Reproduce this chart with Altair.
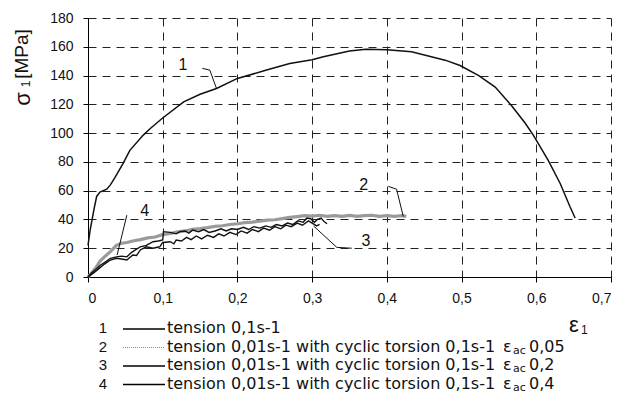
import altair as alt
import pandas as pd

# ---------------- data ----------------
x_ticks = [0, 0.1, 0.2, 0.3, 0.4, 0.5, 0.6, 0.7]
y_ticks = [0, 20, 40, 60, 80, 100, 120, 140, 160, 180]

c1_eps = [0, 0.003, 0.008, 0.0116, 0.016, 0.025, 0.03, 0.036, 0.047, 0.056, 0.074, 0.083,
          0.0987, 0.128, 0.15, 0.172, 0.2, 0.239, 0.27, 0.3, 0.315, 0.35, 0.372, 0.4,
          0.433, 0.478, 0.498, 0.523, 0.545, 0.567, 0.585, 0.596, 0.616, 0.632, 0.645, 0.652]
c1_sig = [22, 33, 47, 56, 59, 61, 64, 69, 79, 88, 98.6, 103,
          110, 121.7, 127, 131, 138, 143.8, 148.4, 151, 153, 157, 158.3, 158,
          156.5, 150.7, 147, 140, 132, 119, 107, 98.6, 81, 65, 49, 41]

c2_eps = [0, 0.005, 0.01, 0.016, 0.022, 0.03, 0.038, 0.045, 0.052, 0.06, 0.07, 0.08, 0.09,
          0.1, 0.11, 0.12, 0.13, 0.14, 0.15, 0.16, 0.17, 0.18, 0.19, 0.2, 0.21, 0.22,
          0.23, 0.24, 0.25, 0.26, 0.27, 0.28, 0.29, 0.3, 0.31, 0.32, 0.33, 0.34, 0.35,
          0.36, 0.37, 0.38, 0.39, 0.4, 0.41, 0.42, 0.426]
c2_sig = [0, 3, 6, 11, 14, 17.6, 22, 23.5, 24, 25, 26, 27.2, 27.8,
          29.5, 30.2, 31.4, 32, 33.2, 33.6, 34.3, 35.2, 35.6, 36.5, 37, 37.8, 38.2,
          38.8, 39.5, 39.8, 40.6, 41.4, 42, 42.6, 42.3, 42.9, 42.2, 42.7, 42.1, 42.8,
          42.2, 42.6, 42.9, 42.1, 42.7, 42.2, 42.6, 42.1]

c3_eps = [0, 0.005, 0.01, 0.016, 0.025, 0.03, 0.038, 0.045, 0.052, 0.058, 0.064, 0.07, 0.078,
          0.087, 0.094, 0.1, 0.101, 0.11, 0.118, 0.123, 0.13, 0.135, 0.14, 0.148, 0.155, 0.162,
          0.17, 0.178, 0.185, 0.192, 0.2, 0.208, 0.215, 0.222, 0.23, 0.238, 0.245, 0.252, 0.26,
          0.267, 0.274, 0.281, 0.288, 0.293, 0.298, 0.303, 0.307, 0.312, 0.316, 0.32]
c3_sig = [0, 3, 5, 8, 11, 13, 14, 14.5, 14, 17, 19, 21, 22,
          24.5, 25, 25.7, 31.5, 31, 30, 31.5, 32, 30.5, 32.6, 31.5, 33, 31,
          32, 33.5, 32, 33.5, 33, 34.5, 33, 35, 34, 35.5, 34.5, 36.5, 35.5,
          37.5, 36.5, 39, 38, 41, 40.5, 38, 40, 41, 38.5, 37]

c4_eps = [0, 0.008, 0.015, 0.022, 0.03, 0.038, 0.045, 0.052, 0.06, 0.065, 0.07, 0.078, 0.087,
          0.096, 0.1, 0.11, 0.115, 0.118, 0.125, 0.132, 0.138, 0.145, 0.152, 0.16, 0.168,
          0.175, 0.182, 0.19, 0.198, 0.205, 0.213, 0.22, 0.228, 0.235, 0.243, 0.25, 0.258,
          0.265, 0.272, 0.28, 0.287, 0.295, 0.3, 0.306, 0.31]
c4_sig = [0, 3, 6, 9, 11.8, 13, 12.5, 11.8, 15.3, 15, 18.8, 21, 20,
          21, 24, 24.5, 23, 25.7, 25, 27.5, 26, 28.5, 26.5, 29, 27.5,
          30, 28.5, 31, 29.5, 32, 30.5, 33, 31.5, 34, 32.5, 35, 33.5,
          36, 35, 37.5, 36, 39, 37.5, 35.5, 36.5]

# leader lines of the curve numbers
lead1_eps, lead1_sig = [0.153, 0.163, 0.172], [145, 143.8, 131]
lead2_eps, lead2_sig = [0.402, 0.413, 0.422], [63, 61, 42]
lead3_eps, lead3_sig = [0.302, 0.333, 0.353], [35.4, 20.6, 20]
lead4_eps, lead4_sig = [0.052, 0.039], [43, 15.3]

num_text = ["1", "2", "3", "4"]
num_eps = [0.127, 0.369, 0.372, 0.076]
num_sig = [147, 64, 25, 46]

legend_nums = ["1", "2", "3", "4"]
legend_texts = ["tension 0,1s-1",
                "tension 0,01s-1 with cyclic torsion 0,1s-1",
                "tension 0,01s-1 with cyclic torsion 0,1s-1",
                "tension 0,01s-1 with cyclic torsion 0,1s-1"]
legend_eac = ["", "0,05", "0,2", "0,4"]

# ---------------- chart ----------------
W, H = 523, 259
FONT = "Liberation Sans"


def frame(eps, sig):
    return pd.DataFrame({"eps": eps, "sig": sig, "i": list(range(len(eps)))})


label_expr = "datum.value == 0 ? '0' : replace(format(datum.value, '.1f'), '.', ',')"

X = alt.X("eps:Q", scale=alt.Scale(domain=[0, 0.7], nice=False, zero=False),
          axis=alt.Axis(values=x_ticks, labelExpr=label_expr, title=None,
                        grid=True, gridDash=[8, 6], gridColor="#222222", gridOpacity=1,
                        domainColor="black", tickColor="black", tickSize=5,
                        labelFont=FONT, labelFontSize=14, labelColor="#111111",
                        labelPadding=9))
Y = alt.Y("sig:Q", scale=alt.Scale(domain=[0, 180], nice=False),
          axis=alt.Axis(values=y_ticks, title=None,
                        grid=True, gridDash=[8, 6], gridColor="#222222", gridOpacity=1,
                        domainColor="black", tickColor="black", tickSize=5,
                        labelFont=FONT, labelFontSize=14, labelColor="#111111",
                        labelPadding=10))


def line(eps, sig, color, width, dash=None):
    kw = dict(color=color, strokeWidth=width)
    if dash:
        kw["strokeDash"] = dash
    return alt.Chart(frame(eps, sig)).mark_line(**kw).encode(x=X, y=Y, order="i:Q")


layers = [
    line(c2_eps, c2_sig, "#9a9a9a", 3.2),
    line(c4_eps, c4_sig, "#111111", 1.4),
    line(c3_eps, c3_sig, "#111111", 1.4),
    line(c1_eps, c1_sig, "#111111", 1.5),
    line(lead1_eps, lead1_sig, "#111111", 1),
    line(lead2_eps, lead2_sig, "#111111", 1),
    line(lead3_eps, lead3_sig, "#111111", 1),
    line(lead4_eps, lead4_sig, "#111111", 1),
]

nums = alt.Chart(pd.DataFrame({"eps": num_eps, "sig": num_sig, "t": num_text})).mark_text(
    font=FONT, fontSize=16, color="#111111", align="center", baseline="middle"
).encode(x=X, y=Y, text="t:N")
layers.append(nums)


def txt(s, x, y, size, angle=0, align="left", baseline="middle", font=FONT):
    return alt.Chart(pd.DataFrame({"t": [s]})).mark_text(
        font=font, fontSize=size, color="#111111", align=align, baseline=baseline, angle=angle
    ).encode(x=alt.value(x), y=alt.value(y), text="t:N")


# y-axis title  "σ1 [MPa]" (rotated)
layers.append(txt("[MPa]", -60, 36, 19, angle=270, align="center", baseline="alphabetic"))
layers.append(txt("1", -58, 66, 12, angle=270, align="center", baseline="alphabetic"))
layers.append(txt("σ", -58, 81, 22, angle=270, align="center", baseline="alphabetic"))

# x-axis title  "ε1"
layers.append(txt("ε", 481, 307, 22, align="left"))
layers.append(txt("1", 493, 312, 12, align="left"))

# legend block
LEG_Y0, LEG_DY = 310, 18.5
for k in range(4):
    yy = LEG_Y0 + k * LEG_DY
    layers.append(txt(legend_nums[k], 15, yy, 15, align="center"))
    if k == 1:
        sample = alt.Chart(pd.DataFrame({"a": [0]})).mark_rule(
            color="#8a8a8a", strokeWidth=1.2, strokeDash=[1, 1]
        ).encode(x=alt.value(35), x2=alt.value(77), y=alt.value(yy + 1))
    else:
        sample = alt.Chart(pd.DataFrame({"a": [0]})).mark_rule(
            color="#000000", strokeWidth=1.3
        ).encode(x=alt.value(35), x2=alt.value(77), y=alt.value(yy + 1))
    layers.append(sample)
    layers.append(txt(legend_texts[k], 79, yy, 16, font="DejaVu Sans"))
    if legend_eac[k]:
        layers.append(txt("ε", 415, yy, 16, font="DejaVu Sans"))
        layers.append(txt("ac", 425, yy + 4, 11, font="DejaVu Sans"))
        layers.append(txt(legend_eac[k], 441, yy, 16, font="DejaVu Sans"))

chart = alt.layer(*layers).properties(
    width=W, height=H,
    autosize=alt.AutoSizeParams(type="none"),
    padding={"left": 80, "top": 10, "right": 2, "bottom": 120},
    background="white",
).configure_view(strokeWidth=0)

chart.save("out.html", embed_options={"renderer": "svg", "actions": False})
